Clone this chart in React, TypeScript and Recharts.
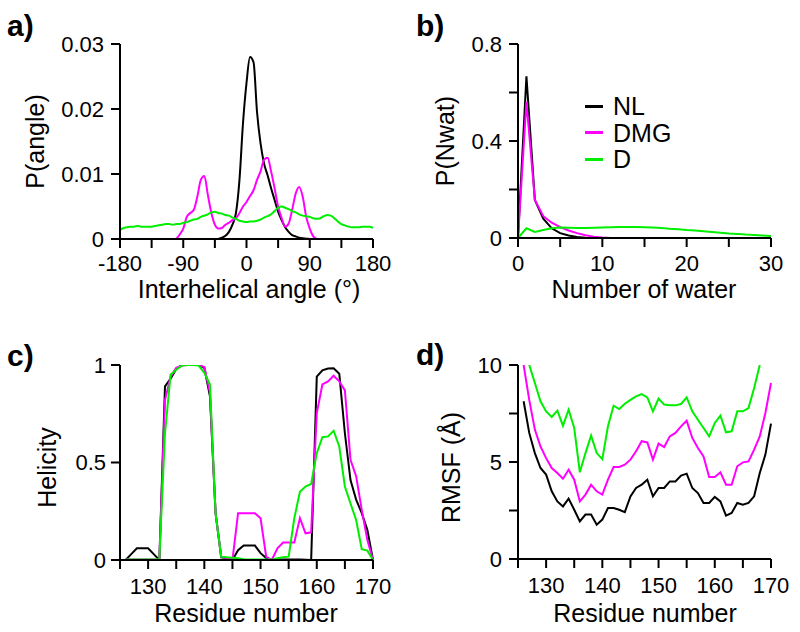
import React from 'react';
import { LineChart, Line, XAxis, YAxis, Legend } from 'recharts';

const FONT = "'Liberation Sans', Arial, Helvetica, sans-serif";
const C_NL = '#000000';
const C_DMG = '#ff00ff';
const C_D = '#00ee00';

// ---------- Panel a: interhelical angle distribution ----------
const aAngle = [
  -180, -175, -170, -165, -160, -155, -150, -145, -140, -135, -130, -125, -120, -115, -110, -105,
  -100, -95, -90, -85, -80, -75, -70, -65, -60, -55, -50, -45, -40, -35, -30, -25, -20, -15, -10, -5,
  0, 5, 10, 15, 20, 25, 30, 35, 40, 45, 50, 55, 60, 65, 70, 75, 80, 85, 90, 95, 100, 105, 110, 115,
  120, 125, 130, 135, 140, 145, 150, 155, 160, 165, 170, 175, 180,
];
const aNL = [
  null, null, null, null, null, null, null, null, null, null, null, null, null, null, null, null,
  null, null, null, null, null, null, null, null, null, null, null, null,
  0, 0.0002, 0.0005, 0.0011, 0.0022, 0.004, 0.0091, 0.0178,
  0.024, 0.028, 0.0272, 0.0195, 0.0147, 0.0116, 0.0098, 0.0078, 0.006, 0.0042, 0.0029, 0.0018,
  0.0011, 0.0006, 0.0004, 0.0002, 0.0001, 0.00005, 0,
  null, null, null, null, null, null, null, null, null, null, null, null, null, null, null, null, null, null,
];
const aDMG = [
  null, null, null, null, null, null, null, null, null, null, null, null, null, null, null, null,
  0, 0.0007, 0.0016, 0.0034, 0.004, 0.0045, 0.0065, 0.0091, 0.0097, 0.0068, 0.004, 0.0022,
  0.0016, 0.0017, 0.0022, 0.0025, 0.0029, 0.0032, 0.004, 0.005,
  0.0057, 0.0066, 0.0075, 0.0091, 0.0104, 0.0122, 0.0125, 0.0104, 0.0078, 0.005, 0.0032, 0.0019,
  0.0024, 0.0045, 0.007, 0.008, 0.0065, 0.0034, 0.0016, 0.0004, 0,
  null, null, null, null, null, null, null, null, null, null, null, null, null, null, null, null,
];
const aD = [
  0.0014, 0.0017, 0.0018, 0.0019, 0.0019, 0.002, 0.0019, 0.0019, 0.0019, 0.0019, 0.002, 0.0021,
  0.0022, 0.0023, 0.0023, 0.0022, 0.0023, 0.0023, 0.0025, 0.0026, 0.0028, 0.003, 0.0031, 0.0034,
  0.0036, 0.0038, 0.0041, 0.0042, 0.004, 0.0039, 0.0037, 0.0036, 0.0033, 0.0031, 0.0028, 0.0027,
  0.0026, 0.0027, 0.0027, 0.0028, 0.003, 0.0033, 0.0035, 0.0038, 0.0043, 0.0048, 0.005, 0.0048,
  0.0046, 0.0043, 0.0041, 0.0038, 0.0036, 0.0035, 0.0034, 0.0032, 0.0031, 0.0032, 0.0035, 0.0037,
  0.0036, 0.0032, 0.0027, 0.0023, 0.0021, 0.0019, 0.0018, 0.0018, 0.0018, 0.0019, 0.0019, 0.0019,
  0.0017,
];
const aXTicks = [-180, -135, -90, -45, 0, 45, 90, 135, 180];
const aXLabels = [-180, -90, 0, 90, 180];
const aYTicks = [0, 0.01, 0.02, 0.03];

// ---------- Panel b: number of water ----------
const bWater = [0, 1, 2, 3, 4, 5, 6, 7, 8, 9, 10, 11, 12, 13, 14, 15, 16, 17, 18, 19, 20, 21, 22, 23, 24, 25, 26, 27, 28, 29, 30];
const bNL = [0, 0.667, 0.157, 0.08, 0.04, 0.02, 0.01, 0.004, 0.001, 0, null, null, null, null, null, null, null, null, null, null, null, null, null, null, null, null, null, null, null, null, null];
const bDMG = [0, 0.562, 0.157, 0.09, 0.063, 0.045, 0.031, 0.02, 0.011, 0.005, 0.002, 0, null, null, null, null, null, null, null, null, null, null, null, null, null, null, null, null, null, null, null];
const bD = [0, 0.04, 0.025, 0.033, 0.04, 0.043, 0.042, 0.041, 0.041, 0.042, 0.043, 0.044, 0.045, 0.045, 0.045, 0.044, 0.043, 0.041, 0.038, 0.036, 0.033, 0.031, 0.028, 0.025, 0.022, 0.019, 0.017, 0.014, 0.012, 0.01, 0.008];
const bXTicks = [0, 5, 10, 15, 20, 25, 30];
const bXLabels = [0, 10, 20, 30];
const bYTicks = [0, 0.2, 0.4, 0.6, 0.8];
const bYLabels = [0, 0.4, 0.8];

// ---------- Panels c, d: per residue ----------
const residues = [
  126, 127, 128, 129, 130, 131, 132, 133, 134, 135, 136, 137, 138, 139, 140, 141, 142, 143, 144, 145,
  146, 147, 148, 149, 150, 151, 152, 153, 154, 155, 156, 157, 158, 159, 160, 161, 162, 163, 164, 165,
  166, 167, 168, 169, 170,
];
const cNL = [
  0, 0.03, 0.06, 0.06, 0.06, 0.03, 0, 0.89, 0.93, 0.98, 1.0, 1.0, 1.0, 1.0, 0.985, 0.84, 0.24, 0.014, 0.01, 0,
  0.05, 0.074, 0.074, 0.074, 0.035, 0.01, 0, 0.003, 0.003, 0.003, 0.003, 0.002, 0.001, 0, 0.94, 0.973, 0.982, 0.983, 0.955, 0.65,
  0.41, 0.31, 0.24, 0.154, 0,
];
const cDMG = [
  0.002, 0.002, 0.002, 0.002, 0.002, 0.002, 0.002, 0.82, 0.94, 0.985, 0.997, 1.0, 1.0, 1.0, 0.99, 0.86, 0.24, 0.017, 0.01, 0,
  0.24, 0.24, 0.24, 0.24, 0.214, 0.017, 0, 0.06, 0.09, 0.09, 0.09, 0.214, 0.137, 0.142, 0.753, 0.9, 0.916, 0.945, 0.916, 0.87,
  0.514, 0.43, 0.257, 0.103, 0,
];
const cD = [
  0.003, 0.003, 0.003, 0.003, 0.003, 0.003, 0.003, 0.65, 0.95, 0.976, 0.997, 1.0, 1.0, 0.997, 0.96, 0.9, 0.24, 0.017, 0.014, 0.012,
  0.009, 0.004, 0.002, 0.002, 0.002, 0.002, 0.002, 0.009, 0.014, 0.017, 0.214, 0.35, 0.377, 0.39, 0.548, 0.63, 0.634, 0.663, 0.582, 0.377,
  0.29, 0.205, 0.055, 0.048, 0,
];
const dNL = [
  8.13, 6.5, 5.46, 4.69, 4.35, 3.49, 2.97, 2.71, 3.11, 2.54, 1.94, 2.29, 2.29, 1.77, 2.03, 2.63, 2.63, 2.54, 2.42, 3.23,
  3.66, 3.83, 4.09, 3.23, 3.66, 3.66, 4.0, 4.0, 4.3, 4.4, 3.66, 3.4, 2.89, 2.89, 3.2, 2.97, 2.23, 2.37, 2.89, 2.8,
  2.89, 3.23, 4.43, 5.38, 6.98,
];
const dDMG = [
  10.0, 8.2, 6.67, 5.8, 5.2, 4.69, 4.43, 4.14, 4.6, 4.09, 2.97, 3.32, 3.83, 3.49, 3.32, 4.09, 4.74, 4.74, 4.86, 5.12,
  5.55, 6.07, 6.01, 5.12, 5.95, 5.77, 6.32, 6.5, 6.84, 7.13, 6.24, 5.72, 5.29, 4.23, 4.23, 4.47, 3.83, 3.83, 4.78, 4.98,
  5.03, 5.64, 6.32, 7.53, 9.07,
];
const dD = [
  null, 10.0, 9.07, 8.13, 7.61, 7.32, 7.65, 6.87, 7.7, 6.75, 4.47, 5.46, 6.36, 5.46, 5.15, 6.84, 7.9, 7.73, 8.0, 8.2,
  8.38, 8.5, 8.33, 7.61, 8.27, 7.96, 7.92, 7.92, 7.99, 8.33, 7.61, 7.18, 6.75, 6.32, 7.01, 7.39, 6.53, 6.58, 7.61, 7.61,
  7.78, 8.81, 10.0, null, null,
];
const resTicks = [125, 130, 135, 140, 145, 150, 155, 160, 165, 170];
const resLabels = [130, 140, 150, 160, 170];
const cYTicks = [0, 0.5, 1];
const dYTicks = [0, 2.5, 5, 7.5, 10];
const dYLabels = [0, 5, 10];

const seriesNames = ['NL', 'DMG', 'D'];
const seriesColors = [C_NL, C_DMG, C_D];

// ---------- build rows ----------
const aRows = aAngle.map((x, i) => ({ x, NL: aNL[i], DMG: aDMG[i], D: aD[i] }));
const bRows = bWater.map((x, i) => ({ x, NL: bNL[i], DMG: bDMG[i], D: bD[i] }));
const cRows = residues.map((x, i) => ({ x, NL: cNL[i], DMG: cDMG[i], D: cD[i] }));
const dRows = residues.map((x, i) => ({ x, NL: dNL[i], DMG: dDMG[i], D: dD[i] }));

const axisLine = { stroke: '#000', strokeWidth: 2 };
const tickLine = { stroke: '#000', strokeWidth: 2 };
const tickStyle = { fill: '#000', fontSize: 22, fontFamily: FONT };

const only = (list: number[]) => (v: number) => (list.some((l) => Math.abs(l - v) < 1e-9) ? String(v) : '');

function yTitle(letter: string, lx: number, ly: number, title: string, tx: number, ty: number) {
  return () => (
    <g>
      <text x={lx} y={ly} fontSize={30} fontWeight="bold" fontFamily={FONT} fill="#000">
        {letter}
      </text>
      <text
        x={tx}
        y={ty}
        transform={`rotate(-90 ${tx} ${ty})`}
        textAnchor="middle"
        fontSize={25}
        fontFamily={FONT}
        fill="#000"
      >
        {title}
      </text>
    </g>
  );
}

function xTitle(title: string, tx: number, ty: number) {
  return () => (
    <text x={tx} y={ty} textAnchor="middle" fontSize={25} fontFamily={FONT} fill="#000">
      {title}
    </text>
  );
}

function lines(type: 'monotone' | 'linear') {
  return seriesNames.map((n, i) => (
    <Line
      key={n}
      type={type}
      dataKey={n}
      name={n}
      stroke={seriesColors[i]}
      strokeWidth={2}
      dot={false}
      activeDot={false}
      isAnimationActive={false}
      connectNulls={false}
    />
  ));
}

const LegendBox = () => (
  <div style={{ fontFamily: FONT, fontSize: 25, lineHeight: '26.5px', color: '#000' }}>
    {seriesNames.map((n, i) => (
      <div key={n} style={{ display: 'flex', alignItems: 'center', height: 26.5 }}>
        <span style={{ display: 'inline-block', width: 18, height: 3, background: seriesColors[i], marginRight: 10 }} />
        <span>{n}</span>
      </div>
    ))}
  </div>
);

export default function App() {
  const W = 400;
  const H = 316;
  return (
    <div style={{ position: 'absolute', left: 0, top: 0, width: 800, height: 632, background: '#fff' }}>
      {/* a */}
      <div style={{ position: 'absolute', left: 0, top: 0 }}>
        <LineChart width={W} height={H} data={aRows} margin={{ top: 44, right: 27, bottom: 0, left: 0 }}>
          <XAxis
            dataKey="x"
            type="number"
            domain={[-180, 180]}
            ticks={aXTicks}
            interval={0}
            tickFormatter={only(aXLabels)}
            height={77}
            axisLine={axisLine}
            tickLine={tickLine}
            tickSize={9}
            tickMargin={7}
            tick={tickStyle}
            label={{ content: xTitle('Interhelical angle (°)', 249, 298) }}
          />
          <YAxis
            type="number"
            domain={[0, 0.03]}
            allowDataOverflow
            ticks={aYTicks}
            interval={0}
            tickFormatter={(v: number) => String(v)}
            width={120}
            axisLine={axisLine}
            tickLine={tickLine}
            tickSize={9}
            tickMargin={7}
            tick={tickStyle}
            label={{ content: yTitle('a)', 7, 36, 'P(angle)', 44, 141.5) }}
          />
          {lines('monotone')}
        </LineChart>
      </div>
      {/* b */}
      <div style={{ position: 'absolute', left: 400, top: 0 }}>
        <LineChart width={W} height={H} data={bRows} margin={{ top: 44, right: 29, bottom: 0, left: 0 }}>
          <XAxis
            dataKey="x"
            type="number"
            domain={[0, 30]}
            ticks={bXTicks}
            interval={0}
            tickFormatter={only(bXLabels)}
            height={78}
            axisLine={axisLine}
            tickLine={tickLine}
            tickSize={9}
            tickMargin={8}
            tick={tickStyle}
            label={{ content: xTitle('Number of water', 244, 298) }}
          />
          <YAxis
            type="number"
            domain={[0, 0.8]}
            allowDataOverflow
            ticks={bYTicks}
            interval={0}
            tickFormatter={only(bYLabels)}
            width={118}
            axisLine={axisLine}
            tickLine={tickLine}
            tickSize={9}
            tickMargin={7}
            tick={tickStyle}
            label={{ content: yTitle('b)', 16, 36, 'P(Nwat)', 54, 141) }}
          />
          {lines('linear')}
          <Legend
            layout="vertical"
            align="center"
            verticalAlign="middle"
            wrapperStyle={{ left: 185, top: 93, width: 120 }}
            content={LegendBox}
          />
        </LineChart>
      </div>
      {/* c */}
      <div style={{ position: 'absolute', left: 0, top: 316 }}>
        <LineChart width={W} height={H} data={cRows} margin={{ top: 49, right: 27, bottom: 0, left: 0 }}>
          <XAxis
            dataKey="x"
            type="number"
            domain={[125, 170]}
            ticks={resTicks}
            interval={0}
            tickFormatter={only(resLabels)}
            height={72}
            axisLine={axisLine}
            tickLine={tickLine}
            tickSize={9}
            tickMargin={9}
            tick={tickStyle}
            label={{ content: xTitle('Residue number', 246, 306) }}
          />
          <YAxis
            type="number"
            domain={[0, 1]}
            allowDataOverflow
            ticks={cYTicks}
            interval={0}
            tickFormatter={(v: number) => String(v)}
            width={120}
            axisLine={axisLine}
            tickLine={tickLine}
            tickSize={9}
            tickMargin={5}
            tick={tickStyle}
            label={{ content: yTitle('c)', 7, 50, 'Helicity', 55.5, 151.5) }}
          />
          {lines('linear')}
        </LineChart>
      </div>
      {/* d */}
      <div style={{ position: 'absolute', left: 400, top: 316 }}>
        <LineChart width={W} height={H} data={dRows} margin={{ top: 49, right: 29, bottom: 0, left: 0 }}>
          <XAxis
            dataKey="x"
            type="number"
            domain={[125, 170]}
            ticks={resTicks}
            interval={0}
            tickFormatter={only(resLabels)}
            height={73}
            axisLine={axisLine}
            tickLine={tickLine}
            tickSize={9}
            tickMargin={9}
            tick={tickStyle}
            label={{ content: xTitle('Residue number', 245, 306) }}
          />
          <YAxis
            type="number"
            domain={[0, 10]}
            allowDataOverflow
            ticks={dYTicks}
            interval={0}
            tickFormatter={only(dYLabels)}
            width={118}
            axisLine={axisLine}
            tickLine={tickLine}
            tickSize={9}
            tickMargin={7}
            tick={tickStyle}
            label={{ content: yTitle('d)', 16, 49, 'RMSF (Å)', 59.5, 151.5) }}
          />
          {lines('linear')}
        </LineChart>
      </div>
    </div>
  );
}
